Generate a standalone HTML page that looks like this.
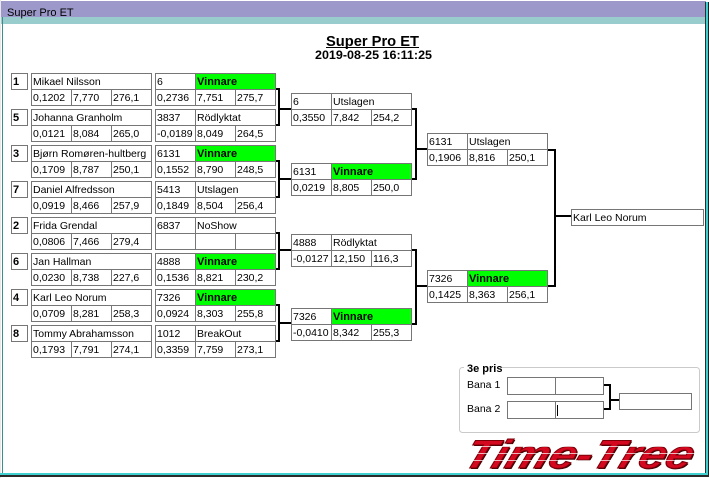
<!DOCTYPE html>
<html>
<head>
<meta charset="utf-8">
<style>
html,body{margin:0;padding:0;background:#fff;width:710px;height:478px;overflow:hidden;}
svg{display:block;}
text{font-family:"Liberation Sans",sans-serif;font-size:10.5px;fill:#000;}
.bd{font-weight:bold;font-size:11px;}
.g{fill:none;stroke:#767676;stroke-width:1;}
.k{fill:#000;}
.gr{fill:#00ff00;}
</style>
</head>
<body>
<svg width="710" height="478" viewBox="0 0 710 478" xmlns="http://www.w3.org/2000/svg" shape-rendering="crispEdges">
<!-- window frame -->
<rect x="0" y="0" width="710" height="478" fill="#ffffff"/>
<rect x="0" y="1" width="706" height="16" fill="#9c99ca"/>
<rect x="0" y="17" width="706" height="7" fill="#99cccc"/>
<rect x="0" y="0" width="1" height="478" fill="#e8e8e8"/>
<rect x="2" y="17" width="1" height="459" fill="#3a8f8f"/>
<rect x="705" y="2" width="1" height="474" fill="#303030"/>
<rect x="706" y="2" width="2" height="474" fill="#40d0d0"/>
<rect x="708" y="2" width="1" height="475" fill="#202020"/>
<rect x="0" y="473" width="708" height="2" fill="#40d0d0"/>
<rect x="0" y="475" width="709" height="2" fill="#2a2a2a"/>
<text x="7" y="16" style="font-size:11px">Super Pro ET</text>

<!-- heading -->
<text x="372.5" y="46" text-anchor="middle" textLength="93" lengthAdjust="spacingAndGlyphs" style="font-weight:bold;font-size:15px">Super Pro ET</text>
<rect x="326" y="47" width="93" height="1" class="k"/>
<text x="373.5" y="59" text-anchor="middle" textLength="117" lengthAdjust="spacingAndGlyphs" style="font-weight:bold;font-size:12px">2019-08-25 16:11:25</text>

<!-- 1 -->
<g>
<rect x="11.5" y="73.5" width="16" height="16" class="g"/><text x="13" y="85" class="bd">1</text>
<rect x="31.5" y="73.5" width="120" height="32" class="g"/><line x1="31" y1="89.5" x2="151" y2="89.5" class="g"/>
<line x1="71.5" y1="89" x2="71.5" y2="105" class="g"/><line x1="111.5" y1="89" x2="111.5" y2="105" class="g"/>
<text x="33" y="85">Mikael Nilsson</text><text x="33" y="101">0,1202</text><text x="73" y="101">7,770</text><text x="113" y="101">276,1</text>
<rect x="196" y="74" width="79" height="15" class="gr"/>
<rect x="155.5" y="73.5" width="120" height="32" class="g"/><line x1="155" y1="89.5" x2="275" y2="89.5" class="g"/>
<line x1="195.5" y1="73" x2="195.5" y2="105" class="g"/><line x1="235.5" y1="89" x2="235.5" y2="105" class="g"/>
<text x="157" y="85">6</text><text x="197" y="85" class="bd">Vinnare</text><text x="157" y="101">0,2736</text><text x="197" y="101">7,751</text><text x="237" y="101">275,7</text>
</g>
<!-- 5 -->
<g>
<rect x="11.5" y="109.5" width="16" height="16" class="g"/><text x="13" y="121" class="bd">5</text>
<rect x="31.5" y="109.5" width="120" height="32" class="g"/><line x1="31" y1="125.5" x2="151" y2="125.5" class="g"/>
<line x1="71.5" y1="125" x2="71.5" y2="141" class="g"/><line x1="111.5" y1="125" x2="111.5" y2="141" class="g"/>
<text x="33" y="121">Johanna Granholm</text><text x="33" y="137">0,0121</text><text x="73" y="137">8,084</text><text x="113" y="137">265,0</text>
<rect x="155.5" y="109.5" width="120" height="32" class="g"/><line x1="155" y1="125.5" x2="275" y2="125.5" class="g"/>
<line x1="195.5" y1="109" x2="195.5" y2="141" class="g"/><line x1="235.5" y1="125" x2="235.5" y2="141" class="g"/>
<text x="157" y="121">3837</text><text x="197" y="121">Rödlyktat</text><text x="157" y="137">-0,0189</text><text x="197" y="137">8,049</text><text x="237" y="137">264,5</text>
</g>
<!-- 3 -->
<g>
<rect x="11.5" y="145.5" width="16" height="16" class="g"/><text x="13" y="157" class="bd">3</text>
<rect x="31.5" y="145.5" width="120" height="32" class="g"/><line x1="31" y1="161.5" x2="151" y2="161.5" class="g"/>
<line x1="71.5" y1="161" x2="71.5" y2="177" class="g"/><line x1="111.5" y1="161" x2="111.5" y2="177" class="g"/>
<text x="33" y="157">Bjørn Romøren-hultberg</text><text x="33" y="173">0,1709</text><text x="73" y="173">8,787</text><text x="113" y="173">250,1</text>
<rect x="196" y="146" width="79" height="15" class="gr"/>
<rect x="155.5" y="145.5" width="120" height="32" class="g"/><line x1="155" y1="161.5" x2="275" y2="161.5" class="g"/>
<line x1="195.5" y1="145" x2="195.5" y2="177" class="g"/><line x1="235.5" y1="161" x2="235.5" y2="177" class="g"/>
<text x="157" y="157">6131</text><text x="197" y="157" class="bd">Vinnare</text><text x="157" y="173">0,1552</text><text x="197" y="173">8,790</text><text x="237" y="173">248,5</text>
</g>
<!-- 7 -->
<g>
<rect x="11.5" y="181.5" width="16" height="16" class="g"/><text x="13" y="193" class="bd">7</text>
<rect x="31.5" y="181.5" width="120" height="32" class="g"/><line x1="31" y1="197.5" x2="151" y2="197.5" class="g"/>
<line x1="71.5" y1="197" x2="71.5" y2="213" class="g"/><line x1="111.5" y1="197" x2="111.5" y2="213" class="g"/>
<text x="33" y="193">Daniel Alfredsson</text><text x="33" y="209">0,0919</text><text x="73" y="209">8,466</text><text x="113" y="209">257,9</text>
<rect x="155.5" y="181.5" width="120" height="32" class="g"/><line x1="155" y1="197.5" x2="275" y2="197.5" class="g"/>
<line x1="195.5" y1="181" x2="195.5" y2="213" class="g"/><line x1="235.5" y1="197" x2="235.5" y2="213" class="g"/>
<text x="157" y="193">5413</text><text x="197" y="193">Utslagen</text><text x="157" y="209">0,1849</text><text x="197" y="209">8,504</text><text x="237" y="209">256,4</text>
</g>
<!-- 2 -->
<g>
<rect x="11.5" y="217.5" width="16" height="16" class="g"/><text x="13" y="229" class="bd">2</text>
<rect x="31.5" y="217.5" width="120" height="32" class="g"/><line x1="31" y1="233.5" x2="151" y2="233.5" class="g"/>
<line x1="71.5" y1="233" x2="71.5" y2="249" class="g"/><line x1="111.5" y1="233" x2="111.5" y2="249" class="g"/>
<text x="33" y="229">Frida Grendal</text><text x="33" y="245">0,0806</text><text x="73" y="245">7,466</text><text x="113" y="245">279,4</text>
<rect x="155.5" y="217.5" width="120" height="32" class="g"/><line x1="155" y1="233.5" x2="275" y2="233.5" class="g"/>
<line x1="195.5" y1="217" x2="195.5" y2="249" class="g"/><line x1="235.5" y1="233" x2="235.5" y2="249" class="g"/>
<text x="157" y="229">6837</text><text x="197" y="229">NoShow</text>
</g>
<!-- 6 -->
<g>
<rect x="11.5" y="253.5" width="16" height="16" class="g"/><text x="13" y="265" class="bd">6</text>
<rect x="31.5" y="253.5" width="120" height="32" class="g"/><line x1="31" y1="269.5" x2="151" y2="269.5" class="g"/>
<line x1="71.5" y1="269" x2="71.5" y2="285" class="g"/><line x1="111.5" y1="269" x2="111.5" y2="285" class="g"/>
<text x="33" y="265">Jan Hallman</text><text x="33" y="281">0,0230</text><text x="73" y="281">8,738</text><text x="113" y="281">227,6</text>
<rect x="196" y="254" width="79" height="15" class="gr"/>
<rect x="155.5" y="253.5" width="120" height="32" class="g"/><line x1="155" y1="269.5" x2="275" y2="269.5" class="g"/>
<line x1="195.5" y1="253" x2="195.5" y2="285" class="g"/><line x1="235.5" y1="269" x2="235.5" y2="285" class="g"/>
<text x="157" y="265">4888</text><text x="197" y="265" class="bd">Vinnare</text><text x="157" y="281">0,1536</text><text x="197" y="281">8,821</text><text x="237" y="281">230,2</text>
</g>
<!-- 4 -->
<g>
<rect x="11.5" y="289.5" width="16" height="16" class="g"/><text x="13" y="301" class="bd">4</text>
<rect x="31.5" y="289.5" width="120" height="32" class="g"/><line x1="31" y1="305.5" x2="151" y2="305.5" class="g"/>
<line x1="71.5" y1="305" x2="71.5" y2="321" class="g"/><line x1="111.5" y1="305" x2="111.5" y2="321" class="g"/>
<text x="33" y="301">Karl Leo Norum</text><text x="33" y="317">0,0709</text><text x="73" y="317">8,281</text><text x="113" y="317">258,3</text>
<rect x="196" y="290" width="79" height="15" class="gr"/>
<rect x="155.5" y="289.5" width="120" height="32" class="g"/><line x1="155" y1="305.5" x2="275" y2="305.5" class="g"/>
<line x1="195.5" y1="289" x2="195.5" y2="321" class="g"/><line x1="235.5" y1="305" x2="235.5" y2="321" class="g"/>
<text x="157" y="301">7326</text><text x="197" y="301" class="bd">Vinnare</text><text x="157" y="317">0,0924</text><text x="197" y="317">8,303</text><text x="237" y="317">255,8</text>
</g>
<!-- 8 -->
<g>
<rect x="11.5" y="325.5" width="16" height="16" class="g"/><text x="13" y="337" class="bd">8</text>
<rect x="31.5" y="325.5" width="120" height="32" class="g"/><line x1="31" y1="341.5" x2="151" y2="341.5" class="g"/>
<line x1="71.5" y1="341" x2="71.5" y2="357" class="g"/><line x1="111.5" y1="341" x2="111.5" y2="357" class="g"/>
<text x="33" y="337">Tommy Abrahamsson</text><text x="33" y="353">0,1793</text><text x="73" y="353">7,791</text><text x="113" y="353">274,1</text>
<rect x="155.5" y="325.5" width="120" height="32" class="g"/><line x1="155" y1="341.5" x2="275" y2="341.5" class="g"/>
<line x1="195.5" y1="325" x2="195.5" y2="357" class="g"/><line x1="235.5" y1="341" x2="235.5" y2="357" class="g"/>
<text x="157" y="337">1012</text><text x="197" y="337">BreakOut</text><text x="157" y="353">0,3359</text><text x="197" y="353">7,759</text><text x="237" y="353">273,1</text>
</g>

<!-- Round 1 connectors -->
<g class="k">
<rect x="276" y="88" width="4" height="2"/><rect x="276" y="124" width="4" height="2"/><rect x="278" y="88" width="2" height="38"/><rect x="280" y="108" width="11" height="2"/>
<rect x="276" y="160" width="4" height="2"/><rect x="276" y="196" width="4" height="2"/><rect x="278" y="160" width="2" height="38"/><rect x="280" y="178" width="11" height="2"/>
<rect x="276" y="232" width="4" height="2"/><rect x="276" y="268" width="4" height="2"/><rect x="278" y="232" width="2" height="38"/><rect x="280" y="249" width="11" height="2"/>
<rect x="276" y="304" width="4" height="2"/><rect x="276" y="340" width="4" height="2"/><rect x="278" y="304" width="2" height="38"/><rect x="280" y="322" width="11" height="2"/>
</g>

<!-- Round 2 -->
<g>
<rect x="291.5" y="93.5" width="120" height="32" class="g"/><line x1="291" y1="109.5" x2="411" y2="109.5" class="g"/>
<line x1="331.5" y1="93" x2="331.5" y2="125" class="g"/><line x1="371.5" y1="109" x2="371.5" y2="125" class="g"/>
<text x="293" y="105">6</text><text x="333" y="105">Utslagen</text><text x="293" y="121">0,3550</text><text x="333" y="121">7,842</text><text x="373" y="121">254,2</text>

<rect x="332" y="164" width="79" height="15" class="gr"/>
<rect x="291.5" y="163.5" width="120" height="32" class="g"/><line x1="291" y1="179.5" x2="411" y2="179.5" class="g"/>
<line x1="331.5" y1="163" x2="331.5" y2="195" class="g"/><line x1="371.5" y1="179" x2="371.5" y2="195" class="g"/>
<text x="293" y="175">6131</text><text x="333" y="175" class="bd">Vinnare</text><text x="293" y="191">0,0219</text><text x="333" y="191">8,805</text><text x="373" y="191">250,0</text>

<rect x="291.5" y="234.5" width="120" height="32" class="g"/><line x1="291" y1="250.5" x2="411" y2="250.5" class="g"/>
<line x1="331.5" y1="234" x2="331.5" y2="266" class="g"/><line x1="371.5" y1="250" x2="371.5" y2="266" class="g"/>
<text x="293" y="246">4888</text><text x="333" y="246">Rödlyktat</text><text x="293" y="262">-0,0127</text><text x="333" y="262">12,150</text><text x="373" y="262">116,3</text>

<rect x="332" y="309" width="79" height="15" class="gr"/>
<rect x="291.5" y="308.5" width="120" height="32" class="g"/><line x1="291" y1="324.5" x2="411" y2="324.5" class="g"/>
<line x1="331.5" y1="308" x2="331.5" y2="340" class="g"/><line x1="371.5" y1="324" x2="371.5" y2="340" class="g"/>
<text x="293" y="320">7326</text><text x="333" y="320" class="bd">Vinnare</text><text x="293" y="336">-0,0410</text><text x="333" y="336">8,342</text><text x="373" y="336">255,3</text>
</g>

<!-- Round 2 connectors -->
<g class="k">
<rect x="412" y="108" width="5" height="2"/><rect x="412" y="178" width="5" height="2"/><rect x="415" y="108" width="2" height="72"/><rect x="417" y="148" width="10" height="2"/>
<rect x="412" y="249" width="5" height="2"/><rect x="412" y="323" width="5" height="2"/><rect x="415" y="249" width="2" height="76"/><rect x="417" y="285" width="10" height="2"/>
</g>

<!-- Round 3 -->
<g>
<rect x="427.5" y="133.5" width="120" height="32" class="g"/><line x1="427" y1="149.5" x2="547" y2="149.5" class="g"/>
<line x1="467.5" y1="133" x2="467.5" y2="165" class="g"/><line x1="507.5" y1="149" x2="507.5" y2="165" class="g"/>
<text x="429" y="145">6131</text><text x="469" y="145">Utslagen</text><text x="429" y="161">0,1906</text><text x="469" y="161">8,816</text><text x="509" y="161">250,1</text>

<rect x="468" y="271" width="79" height="15" class="gr"/>
<rect x="427.5" y="270.5" width="120" height="32" class="g"/><line x1="427" y1="286.5" x2="547" y2="286.5" class="g"/>
<line x1="467.5" y1="270" x2="467.5" y2="302" class="g"/><line x1="507.5" y1="286" x2="507.5" y2="302" class="g"/>
<text x="429" y="282">7326</text><text x="469" y="282" class="bd">Vinnare</text><text x="429" y="298">0,1425</text><text x="469" y="298">8,363</text><text x="509" y="298">256,1</text>
</g>

<!-- Round 3 connectors -->
<g class="k">
<rect x="548" y="149" width="8" height="2"/><rect x="548" y="285" width="8" height="2"/><rect x="554" y="149" width="2" height="138"/><rect x="556" y="215" width="15" height="2"/>
</g>

<!-- Final -->
<rect x="571.5" y="209.5" width="132" height="16" class="g"/>
<text x="573" y="221">Karl Leo Norum</text>

<!-- 3e pris -->
<rect x="459.5" y="367.5" width="240" height="65" rx="3" ry="3" fill="none" stroke="#cacaca" stroke-width="1" shape-rendering="auto"/>
<rect x="464" y="362" width="37" height="10" fill="#fff"/>
<text x="467" y="372" class="bd">3e pris</text>
<text x="467" y="388">Bana 1</text>
<text x="467" y="412">Bana 2</text>
<rect x="507.5" y="377.5" width="96" height="17" class="g"/><line x1="555.5" y1="377" x2="555.5" y2="394" class="g"/>
<rect x="507.5" y="401.5" width="96" height="17" class="g"/><line x1="555.5" y1="401" x2="555.5" y2="418" class="g"/>
<rect x="557" y="405" width="1" height="11" class="k"/>
<g class="k">
<rect x="604" y="384" width="7" height="2"/><rect x="604" y="408" width="7" height="2"/><rect x="609" y="384" width="2" height="26"/><rect x="611" y="399" width="8" height="2"/>
</g>
<rect x="619.5" y="393.5" width="72" height="16" class="g"/>

<!-- Time-Tree logo -->
<g transform="translate(461,468) skewX(-20)" shape-rendering="auto">
<text x="1.5" y="1" textLength="228" lengthAdjust="spacingAndGlyphs" style="font-family:'Liberation Sans',sans-serif;font-weight:bold;font-style:italic;font-size:40px;fill:#3a0000">Time-Tree</text>
<text x="0" y="0" textLength="228" lengthAdjust="spacingAndGlyphs" style="font-family:'Liberation Sans',sans-serif;font-weight:bold;font-style:italic;font-size:40px;fill:#d4081e;stroke:#7a0008;stroke-width:1">Time-Tree</text>
</g>
<g fill="#ffffff" opacity="0.7">
<rect x="462" y="446" width="240" height="1"/>
<rect x="462" y="453" width="240" height="1"/>
<rect x="462" y="460" width="240" height="1"/>
</g>
</svg>
</body>
</html>
